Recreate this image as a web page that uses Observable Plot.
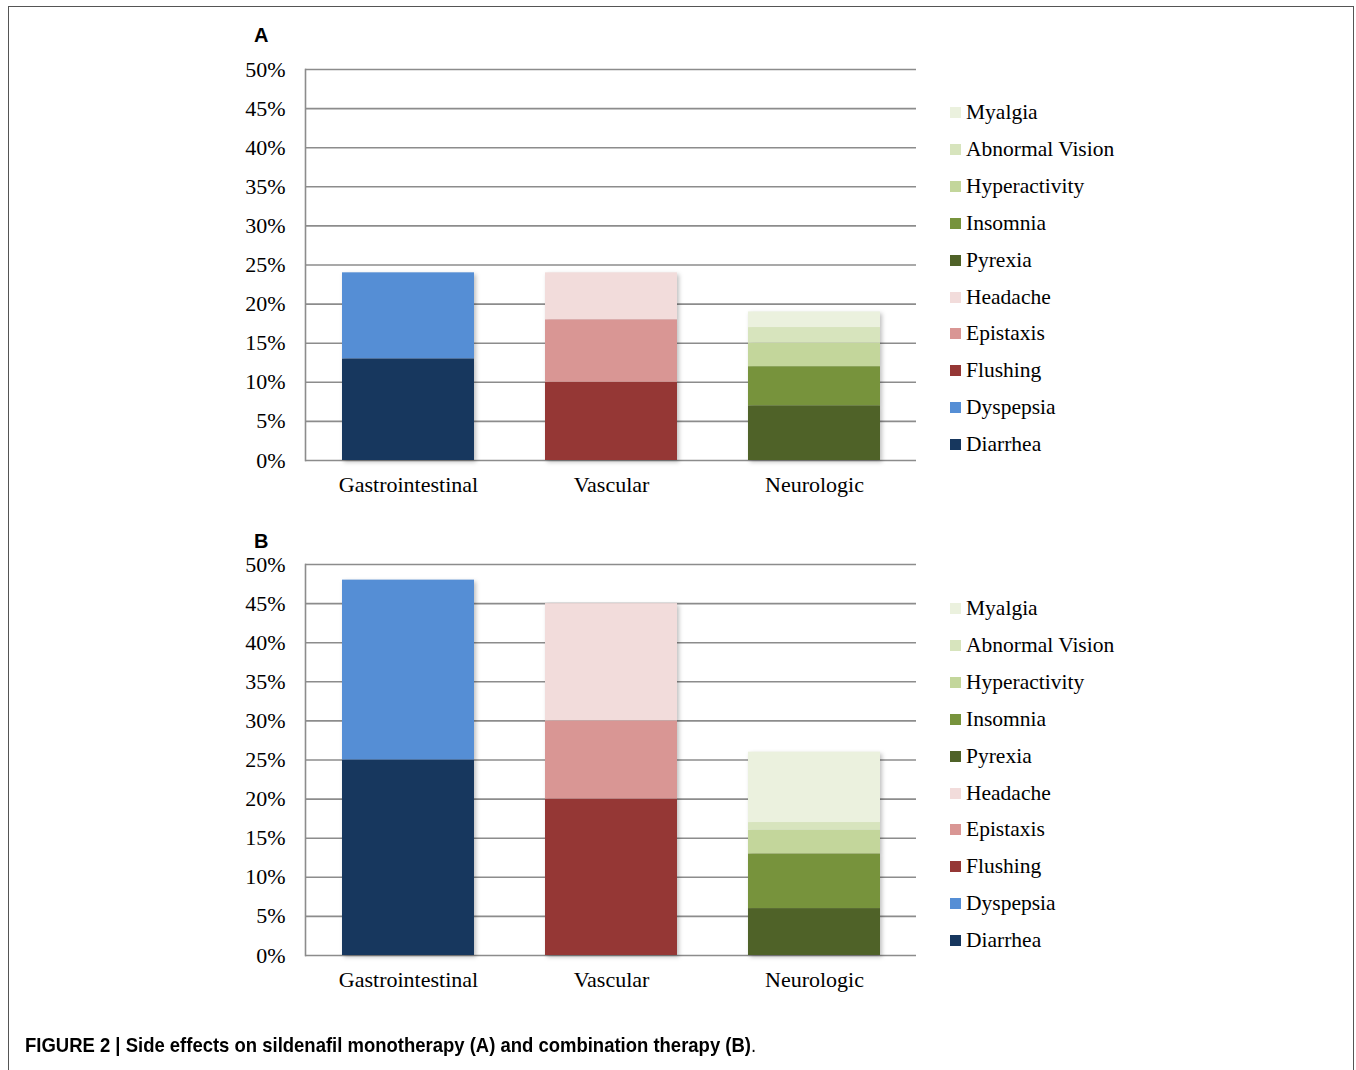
<!DOCTYPE html>
<html>
<head>
<meta charset="utf-8">
<script src="https://cdn.jsdelivr.net/npm/d3@7"></script>
<script src="https://cdn.jsdelivr.net/npm/@observablehq/plot@0.6"></script>
<style>
  html, body { margin: 0; padding: 0; background: #fff; }
  #root { position: relative; width: 1356px; height: 1070px; overflow: hidden; }
  #border { position: absolute; left: 8px; top: 6px; width: 1346px; height: 1100px; border: 1px solid #555; box-sizing: border-box; }
  .panel { position: absolute; left: 0; }
  .plabel { position: absolute; font-family: "Liberation Sans", Arial, sans-serif; font-weight: bold; font-size: 20px; color: #000; }
  .legend { position: absolute; left: 950px; font-family: "Liberation Serif", serif; font-size: 21.5px; color: #000; }
  .legend .item { position: absolute; left: 0; white-space: nowrap; height: 0; }
  .legend .sw { position: absolute; left: 0; top: -5px; width: 11px; height: 11px; }
  .legend .tx { position: absolute; left: 16px; top: -12px; line-height: 24px; }
  #caption { position: absolute; left: 25px; top: 1033px; font-family: "Liberation Sans", Arial, sans-serif; font-size: 21px; color: #000; white-space: nowrap; transform-origin: 0 0; transform: scaleX(0.88); }
</style>
</head>
<body>
<div id="root">
  <div id="border"></div>
</div>
<script>
const categories = ["Gastrointestinal", "Vascular", "Neurologic"];
const effects = ["Diarrhea", "Dyspepsia", "Flushing", "Epistaxis", "Headache", "Pyrexia", "Insomnia", "Hyperactivity", "Abnormal Vision", "Myalgia"];
const effectCategory = ["Gastrointestinal", "Gastrointestinal", "Vascular", "Vascular", "Vascular", "Neurologic", "Neurologic", "Neurologic", "Neurologic", "Neurologic"];
const effectColors = ["#17375e", "#558ed5", "#953735", "#d99694", "#f2dcdb", "#4f6228", "#77933c", "#c3d69b", "#d7e4bd", "#ebf1de"];
const valuesA = [13, 11, 10, 8, 6, 7, 5, 3, 2, 2];   // sildenafil monotherapy (%)
const valuesB = [25, 23, 20, 10, 15, 6, 7, 3, 1, 9]; // combination therapy (%)
const yTicks = [0, 5, 10, 15, 20, 25, 30, 35, 40, 45, 50];
const panelLabels = ["A", "B"];
const captionBold = "FIGURE 2 | Side effects on sildenafil monotherapy (A) and combination therapy (B)";

const root = document.getElementById("root");

function makePanel(values, top, marginTop) {
  const data = effects.map((e, i) => ({effect: e, category: effectCategory[i], value: values[i]}));
  const chart = Plot.plot({
    width: 1356,
    height: 500,
    marginLeft: 305,
    marginRight: 440,
    marginTop: marginTop,
    marginBottom: 500 - marginTop - 391,
    style: {fontFamily: "'Liberation Serif', serif", fontSize: "22px", color: "#000", background: "transparent"},
    x: {domain: categories, paddingInner: 0.352, paddingOuter: 0.176, label: null},
    y: {domain: [0, 50], ticks: yTicks, label: null},
    color: {domain: effects, range: effectColors},
    marks: [
      Plot.gridY(yTicks, {stroke: "#8c8c8c", strokeOpacity: 1, strokeWidth: 1.6}),
      Plot.frame({anchor: "left", stroke: "#8c8c8c", strokeWidth: 1.6}),
      Plot.axisY({ticks: yTicks, tickSize: 0, tickPadding: 20, tickFormat: d => d + "%", fill: "#000", fontSize: 22}),
      Plot.axisX({tickSize: 0, tickPadding: 16, fill: "#000", fontSize: 22}),
      Plot.barY(data, {x: "category", y: "value", fill: "effect", order: effects})
    ]
  });
  chart.classList.add("panel");
  chart.style.top = top + "px";
  chart.querySelectorAll('g[aria-label="bar"]').forEach(g => g.style.filter = "drop-shadow(2px 2px 2px rgba(0,0,0,0.25))");
  root.appendChild(chart);
}

function makeLegend(firstY) {
  const leg = document.createElement("div");
  leg.className = "legend";
  leg.style.top = firstY + "px";
  const order = effects.slice().reverse();
  order.forEach((e, i) => {
    const item = document.createElement("div");
    item.className = "item";
    item.style.top = (i * 36.9) + "px";
    const sw = document.createElement("div");
    sw.className = "sw";
    sw.style.background = effectColors[effects.indexOf(e)];
    const tx = document.createElement("div");
    tx.className = "tx";
    tx.textContent = e;
    item.appendChild(sw);
    item.appendChild(tx);
    leg.appendChild(item);
  });
  root.appendChild(leg);
}

function makeLabel(text, top) {
  const d = document.createElement("div");
  d.className = "plabel";
  d.style.left = "254px";
  d.style.top = top + "px";
  d.textContent = text;
  root.appendChild(d);
}

makePanel(valuesA, 0, 69);
makePanel(valuesB, 500, 64);
makeLegend(112);
makeLegend(608);
makeLabel(panelLabels[0], 24);
makeLabel(panelLabels[1], 530);

const cap = document.createElement("div");
cap.id = "caption";
const b = document.createElement("b");
b.textContent = captionBold;
cap.appendChild(b);
cap.appendChild(document.createTextNode("."));
root.appendChild(cap);
</script>
</body>
</html>
